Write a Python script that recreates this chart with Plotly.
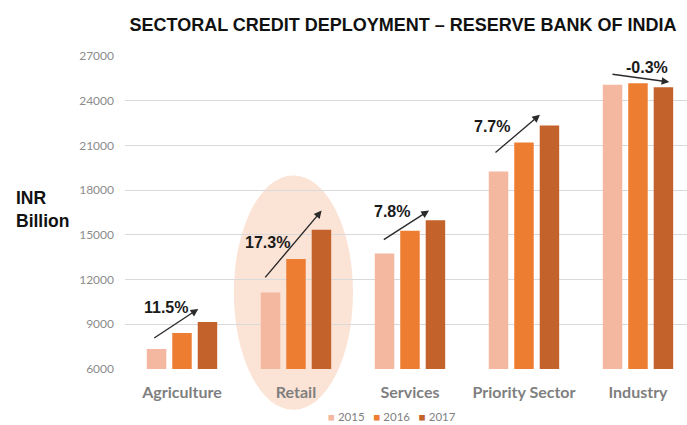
import plotly.graph_objects as go

# Sector credit (INR billion), three fiscal years
sectors = ["Agriculture", "Retail", "Services", "Priority Sector", "Industry"]
years = ["2015", "2016", "2017"]
credit_2015 = [7350, 11140, 13750, 19250, 25070]
credit_2016 = [8420, 13380, 15270, 21190, 25180]
credit_2017 = [9160, 15350, 15980, 22330, 24910]
growth_labels = ["11.5%", "17.3%", "7.8%", "7.7%", "-0.3%"]
y_ticks = [6000, 9000, 12000, 15000, 18000, 21000, 24000, 27000]

colors = ["#F4B7A0", "#ED7D31", "#C4622B"]
series = [credit_2015, credit_2016, credit_2017]

X_MIN, X_MAX = -0.5, 4.43
Y_MIN, Y_MAX = 6000, 27000

fig = go.Figure()
for name, vals, col in zip(years, series, colors):
    fig.add_trace(go.Bar(
        x=sectors, y=vals, name=name,
        marker=dict(color=col, line=dict(width=0)),
        showlegend=False,
    ))

# Highlight ellipse around the Retail group (paper coords derived from axis ranges)
def xp(v):
    return (v - X_MIN) / (X_MAX - X_MIN)

def yp(v):
    return (v - Y_MIN) / (Y_MAX - Y_MIN)

retail_idx = sectors.index("Retail")
fig.add_shape(
    type="circle", xref="paper", yref="paper", layer="below",
    x0=xp(retail_idx - 0.545), x1=xp(retail_idx + 0.50),
    y0=yp(3260), y1=yp(18990),
    fillcolor="#FBE3D5", line=dict(width=0),
)

# Growth arrows: (tail x, tail y, head x, head y) in data coords
arrows = [
    (-0.257, 8015, 0.143, 10030),
    (0.719, 12044, 1.225, 16631),
    (1.757, 14617, 2.167, 16631),
    (2.737, 20439, 3.140, 23058),
    (3.763, 25792, 4.275, 25255),
]
label_pos = [
    (-0.136, 10097),
    (0.746, 14462),
    (1.842, 16578),
    (2.715, 22287),
    (4.083, 26215),
]

annotations = []
for (x0, y0, x1, y1) in arrows:
    annotations.append(dict(
        x=x1, y=y1, ax=x0, ay=y0, xref="x", yref="y", axref="x", ayref="y",
        text="", showarrow=True, arrowhead=2, arrowsize=1.1, arrowwidth=1.4,
        arrowcolor="#2b2b2b", standoff=0, startstandoff=0,
    ))
for (lx, ly), txt in zip(label_pos, growth_labels):
    annotations.append(dict(
        x=lx, y=ly, xref="x", yref="y", text=f"<b>{txt}</b>", showarrow=False,
        font=dict(family="Liberation Sans, Arial", size=16, color="#1a1a1a"),
        xanchor="center", yanchor="middle",
    ))

# Y axis caption
annotations.append(dict(
    x=(14 - 125) / 562, y=(369 - 209) / 313, xref="paper", yref="paper",
    text="<b>INR<br>Billion</b>", showarrow=False, align="left",
    xanchor="left", yanchor="middle",
    font=dict(family="Liberation Sans, Arial", size=17.5, color="#111111"),
))

# Legend row
legend_text = "   ".join(
    f"<span style='color:{c}'>■</span> {y}" for y, c in zip(years, colors)
)
annotations.append(dict(
    x=(392 - 125) / 562, y=(369 - 416) / 313, xref="paper", yref="paper",
    text=legend_text, showarrow=False, xanchor="center", yanchor="middle",
    font=dict(family="Lato", size=11.5, color="#7f7f7f"),
))

fig.update_layout(
    width=687, height=425,
    margin=dict(l=125, r=0, t=56, b=56),
    paper_bgcolor="white", plot_bgcolor="rgba(0,0,0,0)",
    barmode="group", bargap=0.33, bargroupgap=0.235,
    title=dict(
        text="<b>SECTORAL CREDIT DEPLOYMENT – RESERVE BANK OF INDIA</b>",
        x=403 / 687, xref="container", xanchor="center",
        y=1 - 25 / 425, yref="container", yanchor="middle",
        font=dict(family="Liberation Sans, Arial", size=18, color="#111111"),
    ),
    xaxis=dict(
        type="category", range=[X_MIN, X_MAX], showgrid=False, showline=False,
        zeroline=False, ticks="", ticklabelstandoff=12,
        tickfont=dict(family="Lato", size=16, color="#7f7f7f", weight="bold"),
    ),
    yaxis=dict(
        range=[Y_MIN, Y_MAX], tickvals=y_ticks, ticktext=[str(v) for v in y_ticks],
        showgrid=True, gridcolor="#D9D9D9", gridwidth=1.3, zeroline=False,
        showline=False, ticks="", ticklabelstandoff=10,
        tickfont=dict(family="Lato", size=12, color="#8c8c8c"),
    ),
    annotations=annotations,
    showlegend=False,
)

fig.write_html("out.html")
